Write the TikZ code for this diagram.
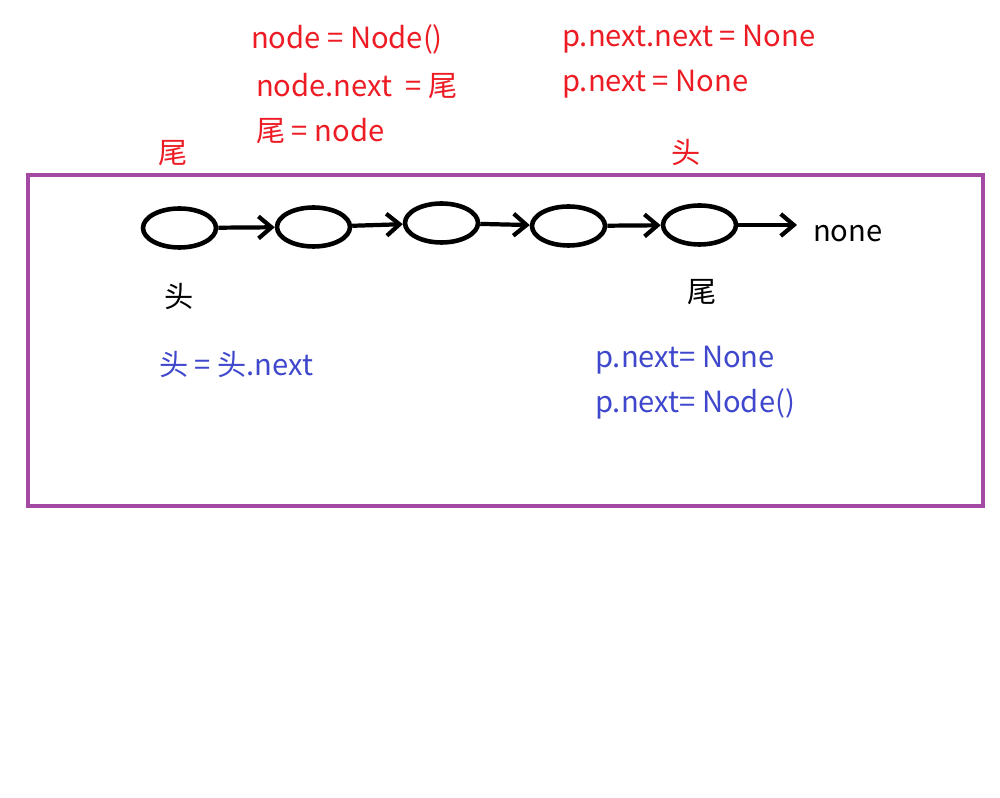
\documentclass[tikz,border=0pt]{standalone}
\usepackage{fontspec}
\setmainfont{Noto Sans CJK SC}
\usetikzlibrary{shapes.geometric,arrows.meta}

\definecolor{noteRed}{RGB}{237,28,36}
\definecolor{noteBlue}{RGB}{63,72,204}
\definecolor{boxPurple}{RGB}{163,73,164}

\tikzset{
  link/.style={ellipse, draw, line width=1.3pt, minimum width=0.73cm, minimum height=0.39cm, inner sep=0pt},
  note/.style={anchor=west, inner sep=0pt, font=\fontsize{8.3}{10}\selectfont},
  tag/.style={inner sep=0pt, font=\fontsize{8.3}{10}\selectfont}
}

\begin{document}
\begin{tikzpicture}
  [>={Straight Barb[length=1.3mm, width=2.2mm]}, line width=1.2pt]
  \useasboundingbox (0, 0) rectangle (10, -7.98);

  \draw [boxPurple, line width=1.4pt] (0.28, -1.75) rectangle (9.83, -5.06);

  \node [link] (n1) at (1.795, -2.28) {};
  \node [link] (n2) at (3.135, -2.27) {};
  \node [link] (n3) at (4.415, -2.23) {};
  \node [link] (n4) at (5.685, -2.26) {};
  \node [link] (n5) at (6.995, -2.25) {};
  \coordinate (end) at (7.97, -2.25);
  \node [tag, anchor=west] (none) at (8.11, -2.34) {none};

  \draw [->] (n1) -- (n2);
  \draw [->] (n2) -- (n3);
  \draw [->] (n3) -- (n4);
  \draw [->] (n4) -- (n5);
  \draw [->] (n5) -- (end);

  \node [tag] (head) at (1.79, -2.97) {头};
  \node [tag] (tail) at (7.02, -2.92) {尾};
  \node [tag, noteRed] (oldtail) at (1.73, -1.53) {尾};
  \node [tag, noteRed] (newhead) at (6.86, -1.53) {头};

  \node [note, noteRed] (add1) at (2.49, -0.39) {node = Node()};
  \node [note, noteRed] (add2) at (2.54, -0.86) {node.next \ = 尾};
  \node [note, noteRed] (add3) at (2.54, -1.31) {尾 = node};
  \node [note, noteRed] (del1) at (5.60, -0.39) {p.next.next = None};
  \node [note, noteRed] (del2) at (5.60, -0.84) {p.next = None};

  \node [note, noteBlue] (pop) at (1.57, -3.65) {头 = 头.next};
  \node [note, noteBlue] (cut) at (5.93, -3.60) {p.next= None};
  \node [note, noteBlue] (push) at (5.93, -4.04) {p.next= Node()};
\end{tikzpicture}
\end{document}
